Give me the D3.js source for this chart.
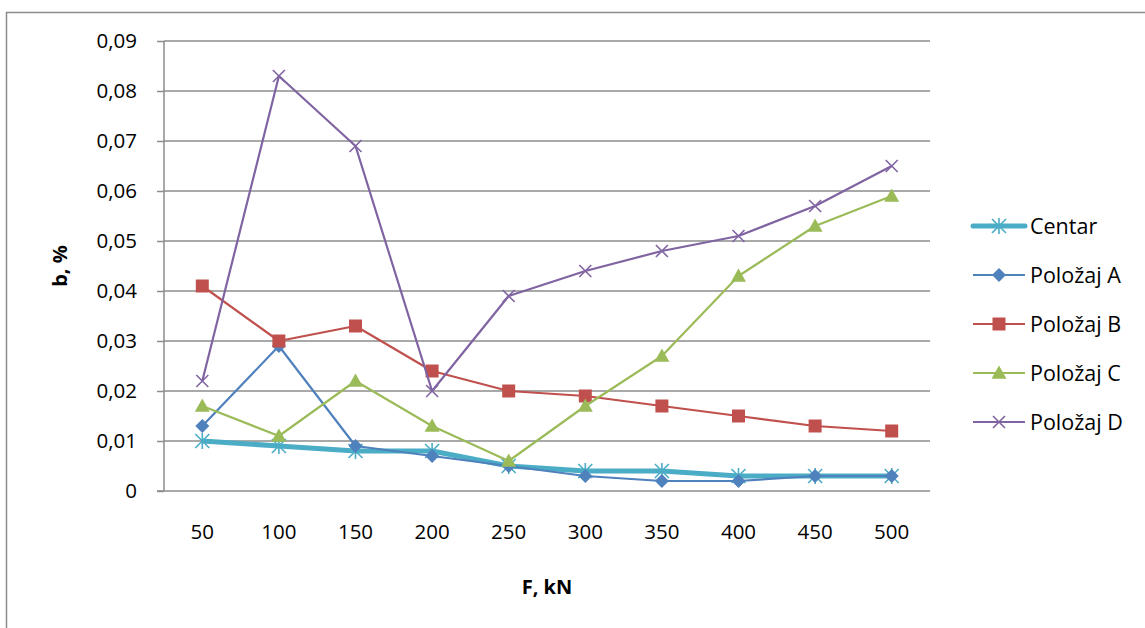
<!DOCTYPE html>
<html><head><meta charset="utf-8">
<script src="https://cdn.jsdelivr.net/npm/d3@7"></script>
<style>body{margin:0;background:#fff}svg{display:block}</style>
</head><body>
<svg id="c" width="1145" height="628"></svg>
<script>
const categories = [50,100,150,200,250,300,350,400,450,500];
const yTicks = [0,0.01,0.02,0.03,0.04,0.05,0.06,0.07,0.08,0.09];
const seriesNames = ["Centar","Položaj A","Položaj B","Položaj C","Položaj D"];
const centar = [0.010,0.009,0.008,0.008,0.005,0.004,0.004,0.003,0.003,0.003];
const polozajA = [0.013,0.029,0.009,0.007,0.005,0.003,0.002,0.002,0.003,0.003];
const polozajB = [0.041,0.030,0.033,0.024,0.020,0.019,0.017,0.015,0.013,0.012];
const polozajC = [0.017,0.011,0.022,0.013,0.006,0.017,0.027,0.043,0.053,0.059];
const polozajD = [0.022,0.083,0.069,0.020,0.039,0.044,0.048,0.051,0.057,0.065];

const series = [
  {name:seriesNames[0], values:centar, color:"#4BACC6", width:5, marker:"star"},
  {name:seriesNames[1], values:polozajA, color:"#4F81BD", width:2.2, marker:"diamond"},
  {name:seriesNames[2], values:polozajB, color:"#C0504D", width:2.2, marker:"square"},
  {name:seriesNames[3], values:polozajC, color:"#9BBB59", width:2.2, marker:"triangle"},
  {name:seriesNames[4], values:polozajD, color:"#8064A2", width:2.2, marker:"x"}
];

const svg = d3.select("#c");
const font = "'Open Sans', sans-serif";
// outer border
svg.append("rect").attr("x",6.5).attr("y",12.5).attr("width",1160).attr("height",640)
  .attr("fill","none").attr("stroke","#8c8c8c").attr("stroke-width",1.5);

const L=164, R=930, T=41, B=491;
const x = d3.scaleBand().domain(categories).range([L,R]);
const y = d3.scaleLinear().domain([0,0.09]).range([B,T]);

// gridlines
svg.append("g").selectAll("line").data(yTicks.filter(d=>d>0)).join("line")
  .attr("x1",L).attr("x2",R).attr("y1",d=>y(d)).attr("y2",d=>y(d))
  .attr("stroke","#8c8c8c").attr("stroke-width",1.5);

// y axis
const fmt = d => d===0 ? "0" : d.toFixed(2).replace(".",",");
const ya = svg.append("g").attr("transform",`translate(${L},0)`)
  .call(d3.axisLeft(y).tickValues(yTicks).tickFormat(fmt).tickSize(7).tickPadding(20));
ya.select(".domain").attr("stroke","#8c8c8c").attr("stroke-width",1.5).attr("d",`M0,${T}V${B}`);
ya.selectAll(".tick line").attr("stroke","#8c8c8c").attr("stroke-width",1.5);
ya.selectAll("text").attr("font-family",font).attr("font-size",20.5).attr("fill","#000");

// x axis
const xa = svg.append("g").attr("transform",`translate(0,${B})`)
  .call(d3.axisBottom(x).tickSize(0).tickPadding(33));
xa.select(".domain").attr("stroke","#8c8c8c").attr("stroke-width",1.5).attr("d",`M${L-7},0H${R}`);
xa.selectAll("text").attr("font-family",font).attr("font-size",20.5).attr("fill","#000");

// axis titles
svg.append("text").attr("transform","translate(67,266) rotate(-90)").attr("text-anchor","middle")
  .attr("font-family",font).attr("font-weight","bold").attr("font-size",20).text("b, %");
svg.append("text").attr("x",547).attr("y",594).attr("text-anchor","middle")
  .attr("font-family",font).attr("font-weight","bold").attr("font-size",20).text("F, kN");

function drawMarker(g, type, color, cx, cy){
  if(type==="star"){
    const s=7;
    g.append("path").attr("d",`M${cx-s},${cy-s}L${cx+s},${cy+s}M${cx-s},${cy+s}L${cx+s},${cy-s}M${cx},${cy-s-1}V${cy+s+1}`)
      .attr("stroke",color).attr("stroke-width",1.6).attr("fill","none");
  } else if(type==="diamond"){
    const s=7;
    g.append("path").attr("d",`M${cx},${cy-s}L${cx+s},${cy}L${cx},${cy+s}L${cx-s},${cy}Z`).attr("fill",color);
  } else if(type==="square"){
    const s=6.5;
    g.append("rect").attr("x",cx-s).attr("y",cy-s).attr("width",2*s).attr("height",2*s).attr("fill",color);
  } else if(type==="triangle"){
    const s=7.5;
    g.append("path").attr("d",`M${cx},${cy-s}L${cx+s},${cy+s*0.75}L${cx-s},${cy+s*0.75}Z`).attr("fill",color);
  } else if(type==="x"){
    const s=6;
    g.append("path").attr("d",`M${cx-s},${cy-s}L${cx+s},${cy+s}M${cx-s},${cy+s}L${cx+s},${cy-s}`)
      .attr("stroke",color).attr("stroke-width",1.6).attr("fill","none");
  }
}

const line = d3.line().x((d,i)=>x(categories[i])+x.bandwidth()/2).y(d=>y(d));
series.forEach(s=>{
  const g = svg.append("g");
  g.append("path").attr("d",line(s.values)).attr("fill","none").attr("stroke",s.color)
    .attr("stroke-width",s.width).attr("stroke-linejoin","round");
  s.values.forEach((v,i)=>drawMarker(g,s.marker,s.color,x(categories[i])+x.bandwidth()/2,y(v)));
});

// legend
const leg = svg.append("g");
series.forEach((s,i)=>{
  const ly = 226 + i*49;
  leg.append("line").attr("x1",973).attr("x2",1025).attr("y1",ly).attr("y2",ly)
    .attr("stroke",s.color).attr("stroke-width",s.width).attr("stroke-linecap",i===0?"round":"butt");
  drawMarker(leg,s.marker,s.color,999,ly);
  leg.append("text").attr("x",1030).attr("y",ly+7.5).attr("font-family",font).attr("font-size",21.5).text(s.name);
});
</script>
</body></html>
